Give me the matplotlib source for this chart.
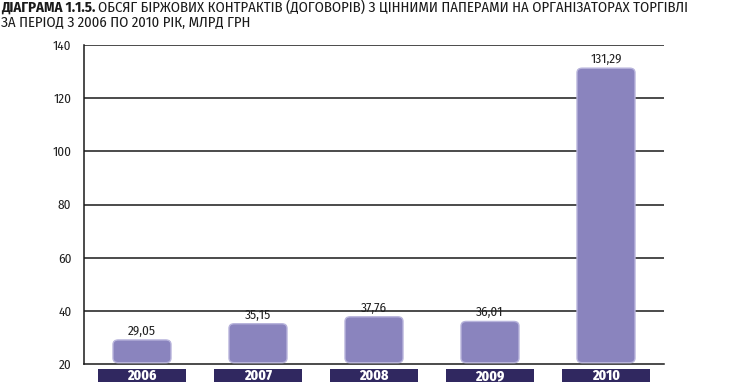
import matplotlib
matplotlib.use("Agg")
import matplotlib.pyplot as plt
from matplotlib.patches import FancyBboxPatch, Rectangle
import matplotlib.transforms as mtransforms

plt.rcParams['font.family'] = ['Fira Sans Condensed', 'DejaVu Sans']

# data
years = ['2006', '2007', '2008', '2009', '2010']
volumes = [29.05, 35.15, 37.76, 36.01, 131.29]
labels = ['29,05', '35,15', '37,76', '36,01', '131,29']
yticks = [20, 40, 60, 80, 100, 120, 140]

bar_color = '#8a84be'
edge_color = '#b8b4dc'
box_color = '#302860'

fig = plt.figure(figsize=(7.35, 3.89), dpi=100)
ax = fig.add_axes([84 / 735, 25 / 389, 580 / 735, 319 / 389])

x = list(range(len(years)))
bars = ax.bar(x, [v - 20 for v in volumes], bottom=20, width=0.5, color='none')
ax.set_xlim(-0.5, 4.5)
ax.set_ylim(20, 140)

# rounded bars from bar geometry
for b in bars:
    b.set_visible(False)
    p = FancyBboxPatch((b.get_x(), b.get_y() + 0.5), b.get_width(), b.get_height() - 0.5,
                       boxstyle="round,pad=0,rounding_size=0.045",
                       mutation_aspect=38, facecolor=bar_color,
                       edgecolor=edge_color, linewidth=1, zorder=3)
    ax.add_patch(p)

for xi, v, lab in zip(x, volumes, labels):
    ax.text(xi, v + 1.0, lab, ha='center', va='bottom', fontsize=9.5, color='#222222', zorder=4)

# gridlines
for t in yticks[1:]:
    ax.axhline(t, color='#1a1a1a', linewidth=1.1, zorder=1)

ax.set_yticks(yticks)
ax.set_yticklabels([str(t) for t in yticks], fontsize=9.5, color='#222222')
ax.tick_params(axis='y', length=0, pad=9)
ax.set_xticks([])
for s in ['top', 'right']:
    ax.spines[s].set_visible(False)
ax.spines['left'].set_linewidth(1.1)
ax.spines['bottom'].set_linewidth(1.1)
ax.spines['left'].set_color('#1a1a1a')
ax.spines['bottom'].set_color('#1a1a1a')

# year boxes below axis
trans = mtransforms.blended_transform_factory(ax.transData, ax.transAxes)
for xi, yr in zip(x, years):
    r = Rectangle((xi - 0.38, -0.057), 0.76, 0.041, transform=trans,
                  facecolor=box_color, edgecolor='none', clip_on=False)
    ax.add_patch(r)
    ax.text(xi, -0.037, yr, transform=trans, ha='center', va='center',
            color='white', fontsize=10, fontweight='heavy', clip_on=False)

# title, bold prefix then normal text
fig.canvas.draw()
t1 = fig.text(1 / 735, 1 - 7.5 / 389, 'ДІАГРАМА 1.1.5.', fontsize=10.6, fontweight='bold',
              va='center', ha='left', color='#1a1a1a')
fig.canvas.draw()
bb = t1.get_window_extent()
fig.text(bb.x1 / fig.bbox.width + 3 / 735, 1 - 7.5 / 389,
         'ОБСЯГ БІРЖОВИХ КОНТРАКТІВ (ДОГОВОРІВ) З ЦІННИМИ ПАПЕРАМИ НА ОРГАНІЗАТОРАХ ТОРГІВЛІ',
         fontsize=10.6, va='center', ha='left', color='#1a1a1a')
fig.text(1 / 735, 1 - 22.5 / 389, 'ЗА ПЕРІОД З 2006 ПО 2010 РІК, МЛРД ГРН',
         fontsize=10.6, va='center', ha='left', color='#1a1a1a')

fig.savefig('out.png', dpi=100)
